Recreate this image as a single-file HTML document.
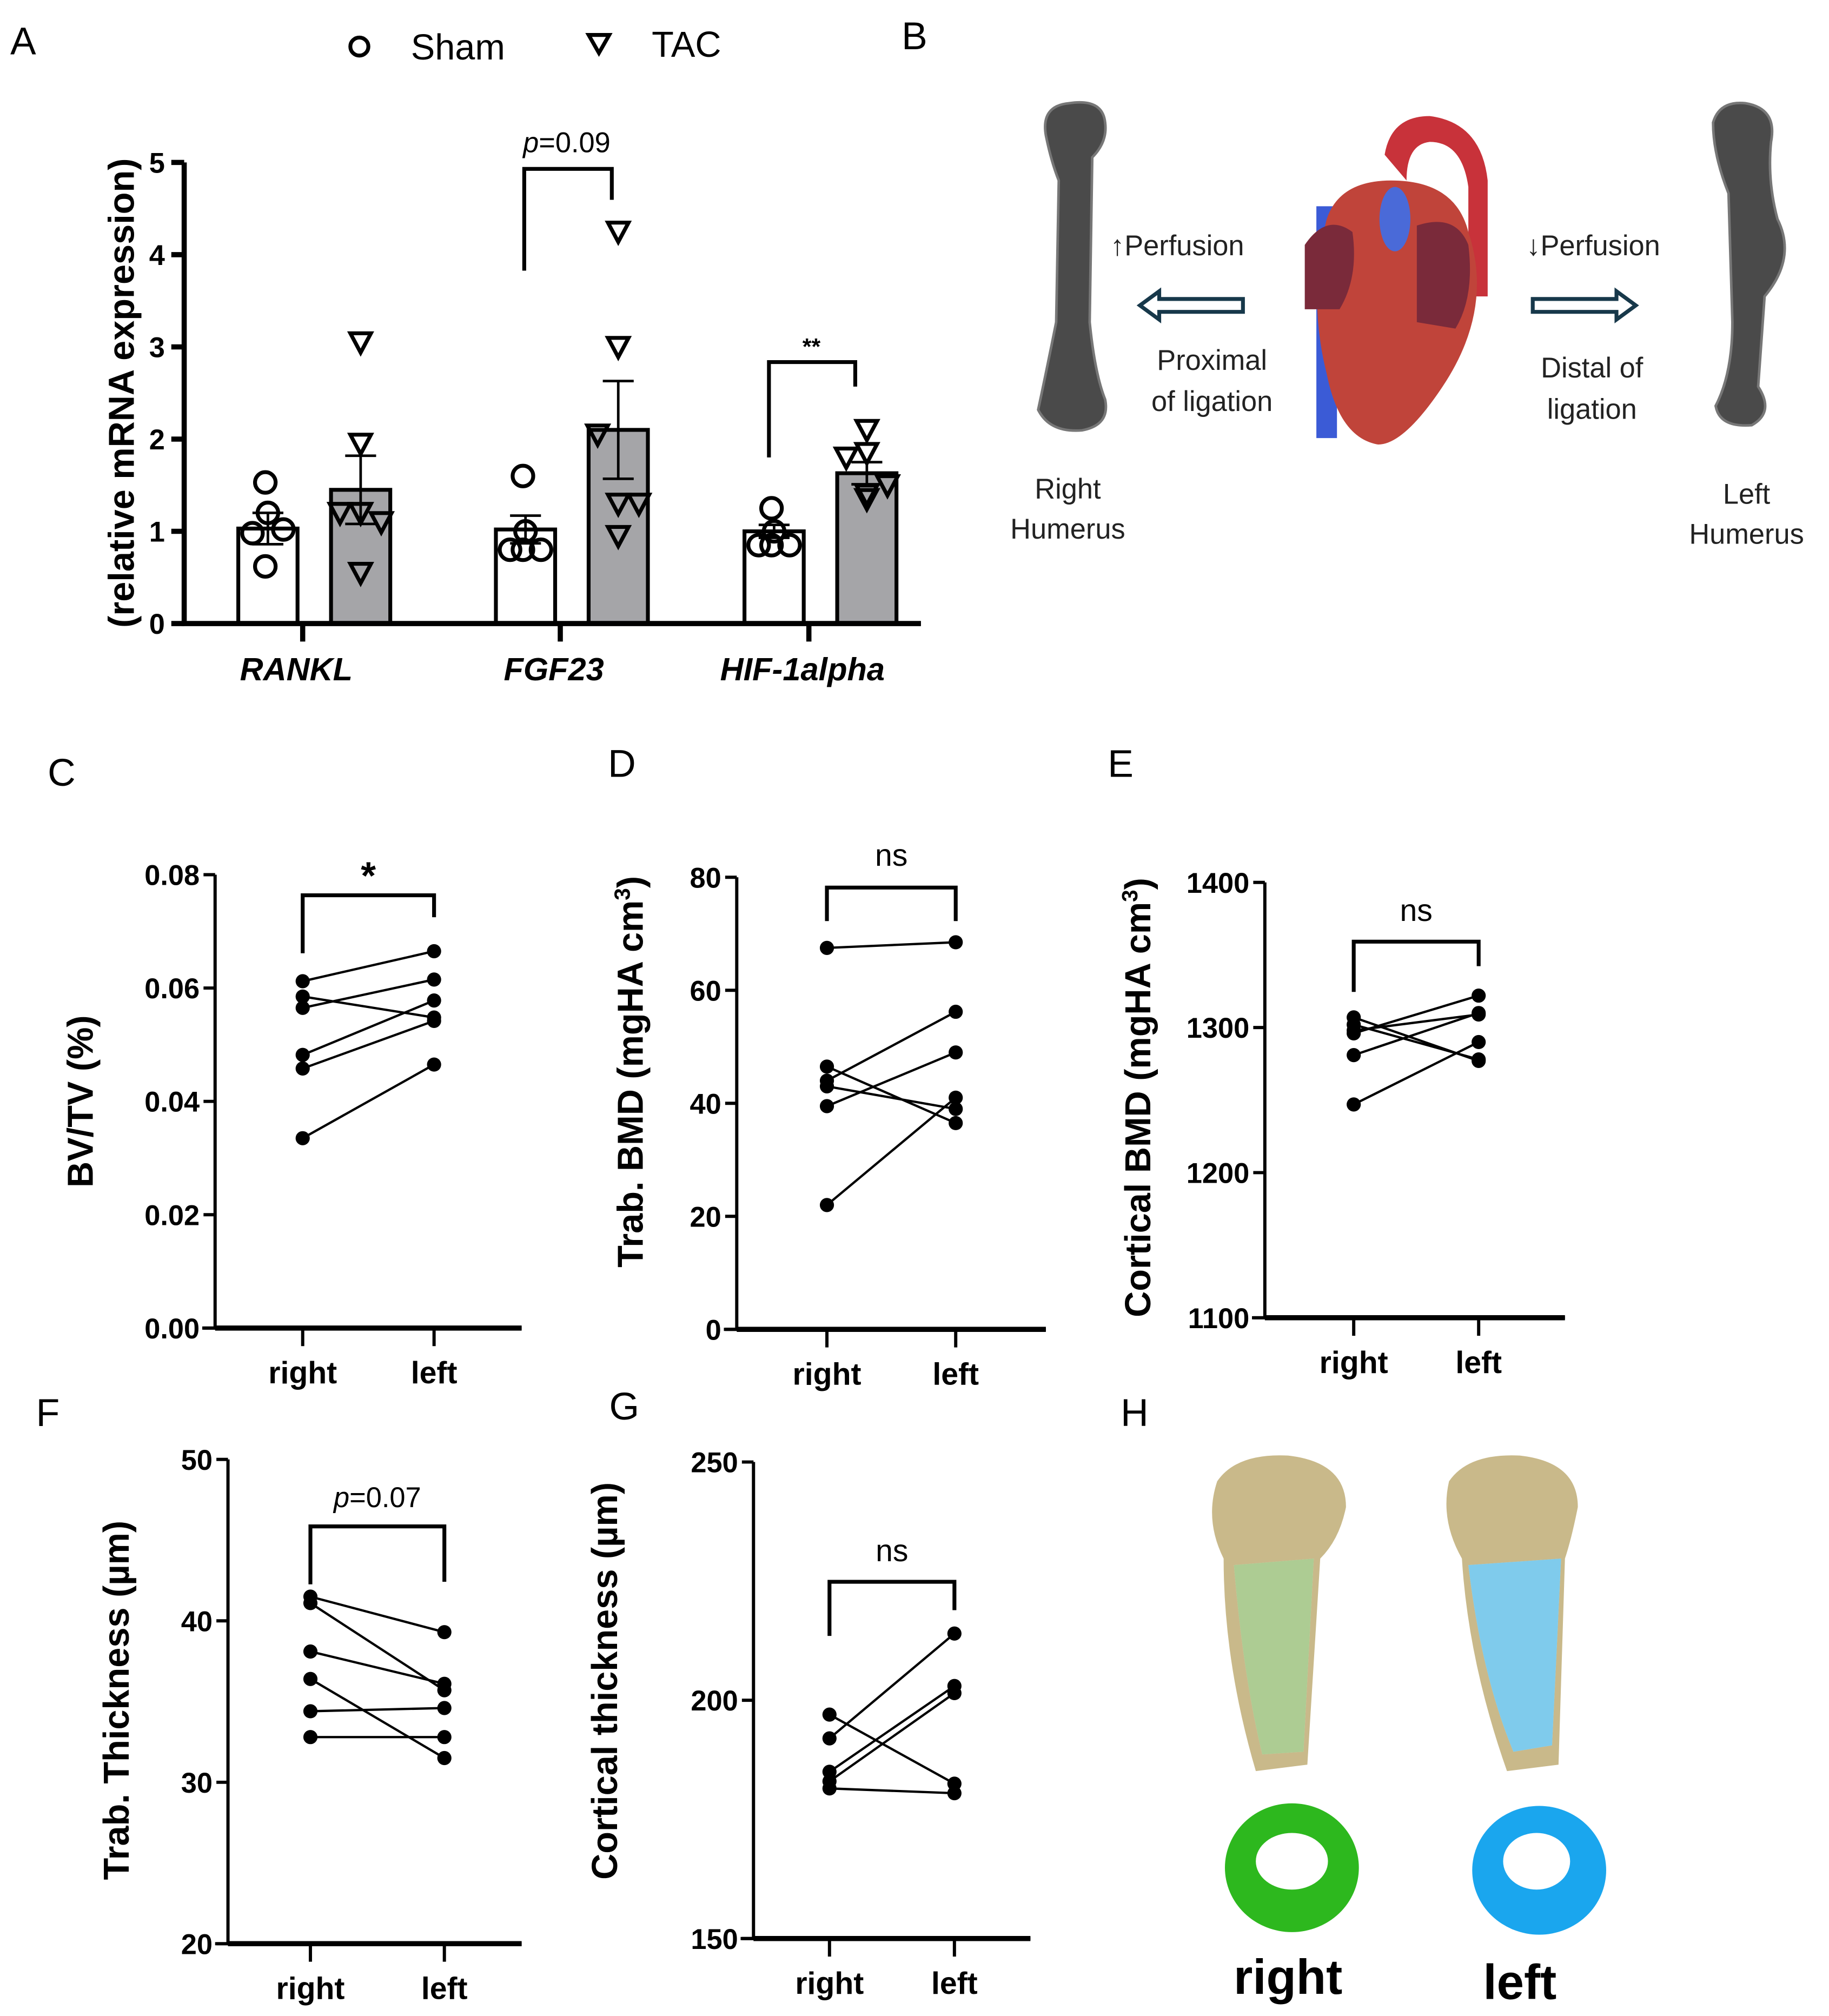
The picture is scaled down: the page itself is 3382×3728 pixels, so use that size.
<!DOCTYPE html>
<html><head><meta charset="utf-8"><style>
html,body{margin:0;padding:0;background:#fff}
svg{display:block}
text{font-family:"Liberation Sans",Arial,sans-serif}
</style></head><body>
<svg id="fig" xmlns="http://www.w3.org/2000/svg" width="3382" height="3728" viewBox="0 0 1420 1565">
<rect width="1420" height="1565" fill="#fff"/>
<g id="panelA"></g>
<g id="panelB">
  <text x="700" y="38" font-size="30">B</text>
  <path d="M812 105 Q808 82 830 80 Q856 76 858 95 Q860 110 848 122 L846 250 Q850 290 858 310 Q862 330 840 334 Q815 336 806 318 Q812 290 820 250 L822 140 Q816 125 812 105Z" fill="#4a4a4a" stroke="#777" stroke-width="2"/>
  <path d="M1330 95 Q1335 78 1355 80 Q1380 84 1375 110 Q1372 140 1380 170 Q1395 200 1370 230 L1365 300 Q1378 320 1360 330 Q1335 332 1332 315 Q1345 290 1345 250 L1342 150 Q1330 120 1330 95Z" fill="#4a4a4a" stroke="#777" stroke-width="2"/>
  <g>
    <rect x="1022" y="160" width="16" height="180" fill="#3b5bd6"/>
    <path d="M1075 120 Q1080 90 1110 90 Q1150 95 1155 140 L1155 230 L1140 230 L1140 145 Q1135 110 1110 110 Q1092 112 1092 140Z" fill="#c8323a"/>
    <path d="M1030 170 Q1040 140 1080 140 Q1130 140 1140 180 Q1160 240 1120 300 Q1090 345 1070 345 Q1040 340 1030 290 Q1015 230 1030 170Z" fill="#c0443a"/>
    <path d="M1013 190 Q1030 165 1050 180 Q1055 215 1040 240 L1013 240Z" fill="#7a2a3a"/>
    <path d="M1100 175 Q1130 165 1140 190 Q1145 230 1130 255 L1100 250Z" fill="#7a2a3a"/>
    <ellipse cx="1083" cy="170" rx="12" ry="25" fill="#4a6ad8"/>
  </g>
  <path d="M965 232 L900 232 L900 226 L885 237 L900 248 L900 242 L965 242Z" fill="#fff" stroke="#17384a" stroke-width="3"/>
  <path d="M1190 232 L1255 232 L1255 226 L1270 237 L1255 248 L1255 242 L1190 242Z" fill="#fff" stroke="#17384a" stroke-width="3"/>
  <g font-size="22" fill="#222">
    <text x="862" y="198">↑Perfusion</text>
    <text x="1185" y="198">↓Perfusion</text>
    <text x="941" y="287" text-anchor="middle">Proximal</text>
    <text x="941" y="319" text-anchor="middle">of ligation</text>
    <text x="1236" y="293" text-anchor="middle">Distal of</text>
    <text x="1236" y="325" text-anchor="middle">ligation</text>
    <text x="829" y="387" text-anchor="middle">Right</text>
    <text x="829" y="418" text-anchor="middle">Humerus</text>
    <text x="1356" y="391" text-anchor="middle">Left</text>
    <text x="1356" y="422" text-anchor="middle">Humerus</text>
  </g>
</g>
<g id="panelC"></g>
<g id="panelD"></g>
<g id="panelE"></g>
<g id="panelF"></g>
<g id="panelG"></g>
<g id="panelH">
  <text x="870" y="1107" font-size="30">H</text>
  <path d="M945 1150 Q960 1128 1000 1130 Q1045 1135 1045 1170 Q1040 1195 1025 1210 L1015 1370 L975 1375 Q950 1290 950 1210 Q935 1180 945 1150Z" fill="#c9b98a"/>
  <path d="M958 1215 L1020 1210 L1012 1360 L980 1362 Q965 1300 958 1215Z" fill="#fff"/>
  <path d="M958 1215 L1020 1210 L1012 1360 L980 1362 Q965 1300 958 1215Z" fill="#6aa33a" opacity="0.55"/>
  <path d="M1125 1150 Q1140 1128 1180 1130 Q1225 1135 1225 1170 Q1220 1195 1215 1210 L1210 1370 L1170 1375 Q1140 1290 1135 1210 Q1118 1180 1125 1150Z" fill="#c9b98a"/>
  <path d="M1140 1215 L1212 1210 L1205 1355 L1175 1360 Q1150 1300 1140 1215Z" fill="#fff"/>
  <path d="M1140 1215 L1212 1210 L1205 1355 L1175 1360 Q1150 1300 1140 1215Z" fill="#2aa8e0" opacity="0.6"/>
  <ellipse cx="1003" cy="1450" rx="52" ry="50" fill="#2db81e"/>
  <ellipse cx="1003" cy="1445" rx="28" ry="22" fill="#fff"/>
  <ellipse cx="1195" cy="1452" rx="52" ry="50" fill="#1aa6ee"/>
  <ellipse cx="1193" cy="1445" rx="26" ry="22" fill="#fff"/>
  <text x="1000" y="1548" font-size="38" font-weight="bold" text-anchor="middle">right</text>
  <text x="1180" y="1552" font-size="38" font-weight="bold" text-anchor="middle">left</text>
</g>
</svg>
<script>
// ---- Panel A data ----
const catsA = ["RANKL", "FGF23", "HIF-1alpha"];
const shamMean = [1.03, 1.02, 1.0];
const tacMean = [1.45, 2.1, 1.63];
const shamSem = [0.17, 0.15, 0.07];
const tacSem = [0.37, 0.53, 0.12];
const shamPts = [[1.53, 1.2, 1.02, 0.98, 0.62], [1.6, 1.0, 0.8, 0.8, 0.8], [1.25, 1.0, 0.85, 0.85, 0.85]];
const tacPts = [[3.05, 1.95, 1.2, 1.1, 1.2, 0.55], [4.25, 3.0, 2.05, 1.3, 1.3, 0.95], [2.1, 1.85, 1.8, 1.5, 1.4, 1.35]];
const ticksA = [0, 1, 2, 3, 4, 5];

// ---- Paired panels data ----
const cRight = [0.0612, 0.0585, 0.0565, 0.0482, 0.0458, 0.0335];
const cLeft = [0.0665, 0.0548, 0.0615, 0.0578, 0.0542, 0.0465];
const cTicks = ["0.00", "0.02", "0.04", "0.06", "0.08"];
const dRight = [67.5, 46.5, 44, 43, 39.5, 22];
const dLeft = [68.5, 36.5, 56.2, 39, 49, 41];
const dTicks = ["0", "20", "40", "60", "80"];
const eRight = [1307, 1302, 1298, 1296, 1281, 1247];
const eLeft = [1277, 1278, 1309, 1322, 1310, 1290];
const eTicks = ["1100", "1200", "1300", "1400"];
const fRight = [41.5, 41.1, 38.1, 36.4, 34.4, 32.8];
const fLeft = [39.3, 35.7, 36.1, 31.5, 34.6, 32.8];
const fTicks = ["20", "30", "40", "50"];
const gRight = [197, 192, 185, 183, 181.5];
const gLeft = [182.5, 214, 203, 201.5, 180.5];
const gTicks = ["150", "200", "250"];
const sides = ["right", "left"];

const NS = "http://www.w3.org/2000/svg";
function mk(parent, tag, attrs, txt) {
  const e = document.createElementNS(NS, tag);
  for (const k in attrs) e.setAttribute(k, attrs[k]);
  if (txt !== undefined) e.textContent = txt;
  parent.appendChild(e);
  return e;
}

// ---- Panel A ----
(function () {
  const g = document.getElementById("panelA");
  const ax0 = 143, ay0 = 484, ay5 = 126, axR = 715;
  const y = v => ay0 - (v / 5) * (ay0 - ay5);
  const centers = [235, 435, 628];
  let t = mk(g, "text", { x: 8, y: 42, "font-size": 30 }, "A");
  
  
  let c = mk(g, "circle", { cx: 279, cy: 36, r: 7, fill: "none", stroke: "#000", "stroke-width": 3 });
  
  
  t = mk(g, "text", { x: 319, y: 46, "font-size": 28 }, "Sham");
  
  
  let p = mk(g, "path", { d: "M457 27 L473 27 L465 41Z", fill: "none", stroke: "#000", "stroke-width": 3 });
  
  
  t = mk(g, "text", { x: 506, y: 44, "font-size": 28 }, "TAC");
  
  

  catsA.forEach((cat, i) => {
    const cs = centers[i] - 27, ct = centers[i] + 45;
    const bw = 46;
    let r = mk(g, "rect", { x: cs - bw / 2, y: y(shamMean[i]), width: bw, height: ay0 - y(shamMean[i]), fill: "#fff", stroke: "#000", "stroke-width": 3 });
    
    
    r = mk(g, "rect", { x: ct - bw / 2, y: y(tacMean[i]), width: bw, height: ay0 - y(tacMean[i]), fill: "#a5a5a8", stroke: "#000", "stroke-width": 3 });
    
    
    [[cs, shamMean[i], shamSem[i]], [ct, tacMean[i], tacSem[i]]].forEach(([cx, m, s]) => {
      const eb = mk(g, "path", { d: `M${cx} ${y(m - s)} L${cx} ${y(m + s)} M${cx - 12} ${y(m + s)} L${cx + 12} ${y(m + s)} M${cx - 12} ${y(m - s)} L${cx + 12} ${y(m - s)}`, stroke: "#000", "stroke-width": 2, fill: "none" });
      
      
    });
    const offS = [-2, 0, 12, -12, -2];
    shamPts[i].forEach((v, j) => {
      const pt = mk(g, "circle", { cx: cs + offS[j % offS.length], cy: y(v), r: 8, fill: "none", stroke: "#000", "stroke-width": 3 });
      
      
    });
    const offT = [0, 0, -16, 16, 0, 0];
    tacPts[i].forEach((v, j) => {
      const px = ct + offT[j % offT.length], py = y(v);
      const pt = mk(g, "path", { d: `M${px - 8} ${py - 7} L${px + 8} ${py - 7} L${px} ${py + 8}Z`, fill: "none", stroke: "#000", "stroke-width": 3 });
      
      
    });
    const tk = mk(g, "line", { x1: centers[i], y1: ay0, x2: centers[i], y2: ay0 + 14, stroke: "#000", "stroke-width": 4 });
    
    
    const lb = mk(g, "text", { x: centers[i] - 5, y: 528, "font-size": 25, "font-weight": "bold", "font-style": "italic", "text-anchor": "middle" }, cat);
    
    
  });
  let ax = mk(g, "path", { d: `M${ax0} ${ay5} L${ax0} ${ay0} L${axR} ${ay0}`, stroke: "#000", "stroke-width": 4, fill: "none" });
  
  
  ticksA.forEach(v => {
    const l = mk(g, "line", { x1: ax0 - 10, y1: y(v), x2: ax0, y2: y(v), stroke: "#000", "stroke-width": 4 });
    
    
    const tl = mk(g, "text", { x: ax0 - 15, y: y(v) + 8, "font-size": 22, "font-weight": "bold", "text-anchor": "end" }, String(v));
    
    
  });
  const yl = mk(g, "text", { x: 0, y: 0, "font-size": 28, "font-weight": "bold", "text-anchor": "middle", transform: "translate(104,305) rotate(-90)" }, "(relative mRNA expression)");
  
  
  const br = mk(g, "path", { d: "M407 210 L407 131 L475 131 L475 155 M597 355 L597 281 L664 281 L664 300", stroke: "#000", "stroke-width": 3, fill: "none" });
  
  
  const s1 = mk(g, "text", { x: 440, y: 118, "font-size": 22, "text-anchor": "middle" });
  s1.innerHTML = '<tspan font-style="italic">p</tspan>=0.09';
  
  
  const s2 = mk(g, "text", { x: 630, y: 275, "font-size": 18, "font-weight": "bold", "text-anchor": "middle" }, "**");
  
  
})();

// ---- Paired panels ----
function paired(id, cfg, rightVals, leftVals, ticks) {
  const g = document.getElementById(id);
  const y = v => cfg.yb - (v - cfg.min) / (cfg.max - cfg.min) * (cfg.yb - cfg.yt);
  let t = mk(g, "text", { x: cfg.lx, y: cfg.ly, "font-size": 30 }, cfg.letter);
  
  
  const ax = mk(g, "path", { d: `M${cfg.ax} ${cfg.yt} L${cfg.ax} ${cfg.yb} M${cfg.ax - 10} ${cfg.yb} L${cfg.axR} ${cfg.yb}`, stroke: "#000", "stroke-width": 2.5, fill: "none" });
  
  
  const xb = mk(g, "line", { x1: cfg.ax, y1: cfg.yb, x2: cfg.axR, y2: cfg.yb, stroke: "#000", "stroke-width": 4 });
  
  
  ticks.forEach(s => {
    const v = parseFloat(s);
    const l = mk(g, "line", { x1: cfg.ax - 9, y1: y(v), x2: cfg.ax, y2: y(v), stroke: "#000", "stroke-width": 2.5 });
    
    
    const tl = mk(g, "text", { x: cfg.ax - 12, y: y(v) + 8, "font-size": 22, "font-weight": "bold", "text-anchor": "end" }, s);
    
    
  });
  [cfg.xr, cfg.xl].forEach((x, i) => {
    const l = mk(g, "line", { x1: x, y1: cfg.yb, x2: x, y2: cfg.yb + 14, stroke: "#000", "stroke-width": 2.5 });
    
    
    const tl = mk(g, "text", { x: x, y: cfg.yb + 43, "font-size": 24, "font-weight": "bold", "text-anchor": "middle" }, sides[i]);
    
    
  });
  rightVals.forEach((rv, i) => {
    const lv = leftVals[i];
    const ln = mk(g, "line", { x1: cfg.xr, y1: y(rv), x2: cfg.xl, y2: y(lv), stroke: "#000", "stroke-width": 1.8 });
    
    
    const a = mk(g, "circle", { cx: cfg.xr, cy: y(rv), r: 5.5, fill: "#000" });
    
    
    const b = mk(g, "circle", { cx: cfg.xl, cy: y(lv), r: 5.5, fill: "#000" });
    
    
  });
  const br = mk(g, "path", { d: `M${cfg.xr} ${cfg.bl} L${cfg.xr} ${cfg.bt} L${cfg.xl} ${cfg.bt} L${cfg.xl} ${cfg.brr}`, stroke: "#000", "stroke-width": 3, fill: "none" });
  
  
  const st = mk(g, "text", { x: (cfg.xr + cfg.xl) / 2, y: cfg.sy, "font-size": cfg.ss, "font-weight": cfg.sw, "text-anchor": "middle" });
  st.innerHTML = cfg.sig;
  
  
  const yl = mk(g, "text", { x: 0, y: 0, "font-size": 28, "font-weight": "bold", "text-anchor": "middle", transform: `translate(${cfg.tx},${cfg.ty}) rotate(-90)` });
  yl.innerHTML = cfg.title;
  
  
}
paired("panelC", { letter: "C", lx: 37, ly: 610, ax: 167, axR: 405, yt: 679, yb: 1031, min: 0, max: 0.08, xr: 235, xl: 337, bt: 695, bl: 740, brr: 712, sy: 690, ss: 30, sw: "bold", sig: "*", tx: 72, ty: 855, title: "BV/TV (%)" }, cRight, cLeft, cTicks);
paired("panelD", { letter: "D", lx: 472, ly: 603, ax: 572, axR: 812, yt: 681, yb: 1032, min: 0, max: 80, xr: 642, xl: 742, bt: 689, bl: 715, brr: 715, sy: 672, ss: 24, sw: "normal", sig: "ns", tx: 499, ty: 832, title: 'Trab. BMD (mgHA cm<tspan dy="-10" font-size="17">3</tspan><tspan dy="10">)</tspan>' }, dRight, dLeft, dTicks);
paired("panelE", { letter: "E", lx: 860, ly: 603, ax: 982, axR: 1215, yt: 685, yb: 1023, min: 1100, max: 1400, xr: 1051, xl: 1148, bt: 731, bl: 770, brr: 750, sy: 715, ss: 24, sw: "normal", sig: "ns", tx: 893, ty: 852, title: 'Cortical BMD (mgHA cm<tspan dy="-10" font-size="17">3</tspan><tspan dy="10">)</tspan>' }, eRight, eLeft, eTicks);
paired("panelF", { letter: "F", lx: 28, ly: 1107, ax: 177, axR: 405, yt: 1133, yb: 1509, min: 20, max: 50, xr: 241, xl: 345, bt: 1185, bl: 1230, brr: 1228, sy: 1170, ss: 22, sw: "normal", sig: '<tspan font-style="italic">p</tspan>=0.07', tx: 100, ty: 1320, title: "Trab. Thickness (µm)" }, fRight, fLeft, fTicks);
paired("panelG", { letter: "G", lx: 473, ly: 1102, ax: 585, axR: 800, yt: 1135, yb: 1505, min: 150, max: 250, xr: 644, xl: 741, bt: 1228, bl: 1270, brr: 1250, sy: 1212, ss: 24, sw: "normal", sig: "ns", tx: 479, ty: 1305, title: "Cortical thickness (µm)" }, gRight, gLeft, gTicks);
</script>
</body></html>
